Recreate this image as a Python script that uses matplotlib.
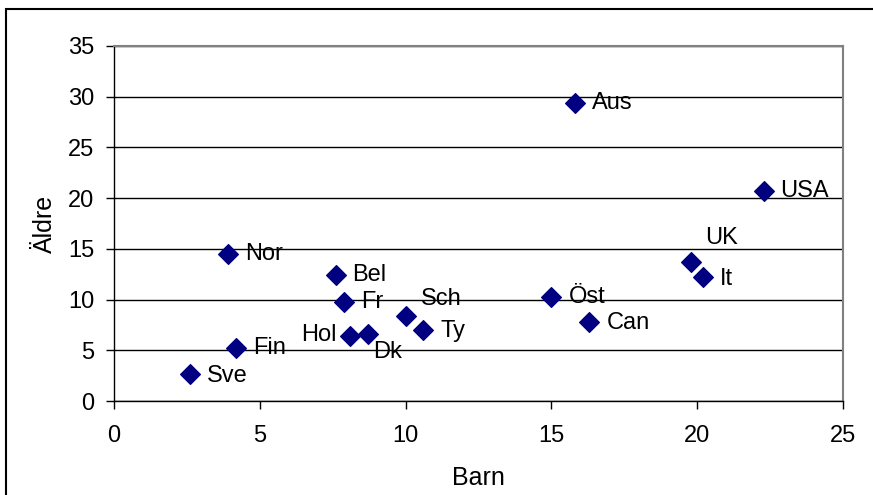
import matplotlib.pyplot as plt
from matplotlib.patches import Rectangle

plt.rcParams['font.family'] = ['Liberation Sans', 'DejaVu Sans']

countries = ['Sve', 'Fin', 'Nor', 'Bel', 'Fr', 'Hol', 'Dk', 'Sch', 'Ty',
             'Öst', 'Can', 'Aus', 'USA', 'UK', 'It']
barn = [2.6, 4.2, 3.9, 7.6, 7.9, 8.1, 8.7, 10.0, 10.6,
        15.0, 16.3, 15.8, 22.3, 19.8, 20.2]
aldre = [2.7, 5.2, 14.5, 12.4, 9.8, 6.4, 6.6, 8.4, 7.0,
         10.3, 7.8, 29.4, 20.7, 13.7, 12.2]

# label offsets in pixels (dx, dy, ha)
offsets = {
    'Sve': (17, -2, 'left'), 'Fin': (17, 0, 'left'), 'Nor': (17, 0, 'left'),
    'Bel': (17, 0, 'left'), 'Fr': (17, 0, 'left'), 'Hol': (-14, 1, 'right'),
    'Dk': (5, -18, 'left'), 'Sch': (15, 17, 'left'), 'Ty': (17, -1, 'left'),
    'Öst': (17, 0, 'left'), 'Can': (17, -1, 'left'), 'Aus': (17, 0, 'left'),
    'USA': (16, 0, 'left'), 'UK': (14, 24, 'left'), 'It': (17, -2, 'left'),
}

fig = plt.figure(figsize=(8.73, 4.95), dpi=100)
ax = fig.add_axes([114 / 873, 94 / 495, 729 / 873, 355 / 495])

ax.scatter(barn, aldre, marker='D', s=100, color='#000080', zorder=3)
for name, x, y in zip(countries, barn, aldre):
    dx, dy, ha = offsets[name]
    ax.annotate(name, (x, y), xytext=(dx * 0.72, dy * 0.72),
                textcoords='offset points', ha=ha, va='center',
                fontsize=17, color='black')

ax.set_xlim(0, 25)
ax.set_ylim(0, 35)
ax.set_xticks(range(0, 26, 5))
ax.set_yticks(range(0, 36, 5))
ax.yaxis.grid(True, color='black', linewidth=1)
ax.set_axisbelow(True)
ax.tick_params(labelsize=17, length=6, width=1, direction='out')
ax.tick_params(axis='x', pad=11)
ax.tick_params(axis='y', pad=8)

for side in ['top', 'right']:
    ax.spines[side].set_color('#808080')
    ax.spines[side].set_linewidth(1.5)
for side in ['left', 'bottom']:
    ax.spines[side].set_color('black')
    ax.spines[side].set_linewidth(1)

ax.set_xlabel('Barn', fontsize=18, labelpad=14)
ax.set_ylabel('Äldre', fontsize=18, labelpad=8)

fig.patches.append(Rectangle((6 / 873, -0.1), 1.2, 1 - 9 / 495 + 0.1,
                             transform=fig.transFigure, fill=False,
                             edgecolor='black', linewidth=1.5))

fig.savefig('out.png', dpi=100)
